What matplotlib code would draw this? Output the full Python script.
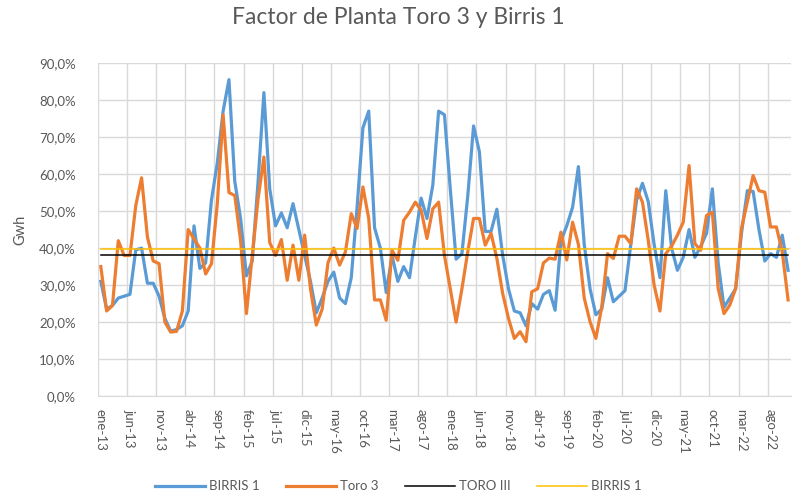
import numpy as np
import matplotlib.pyplot as plt
from matplotlib.ticker import FuncFormatter

plt.rcParams['font.family'] = ['Lato', 'DejaVu Sans']

# Monthly values, ene-13 .. nov-22 (plant factor in %)
tick_labels = ["ene-13", "jun-13", "nov-13", "abr-14", "sep-14", "feb-15",
               "jul-15", "dic-15", "may-16", "oct-16", "mar-17", "ago-17",
               "ene-18", "jun-18", "nov-18", "abr-19", "sep-19", "feb-20",
               "jul-20", "dic-20", "may-21", "oct-21", "mar-22", "ago-22"]

birris_1 = [31, 23.5, 24.5, 26.5, 27, 27.5, 39.5, 40, 30.5, 30.5,
            27, 21, 17.5, 18, 19, 23, 46, 34.5, 36, 53,
            63, 77, 85.5, 58, 48, 32.5, 36.5, 58, 82, 56,
            46, 49.5, 45.5, 52, 45, 38, 31, 22.5, 26.5, 31,
            33.5, 26.5, 25, 32, 51, 72.5, 77, 45.5, 40, 28,
            38, 31, 35, 32, 43, 53.5, 48, 57, 77, 76,
            56, 37, 38.5, 54, 73, 66, 44.5, 44.5, 50.5, 38,
            29, 23, 22.5, 19, 25, 23.5, 27.5, 28.5, 23.2, 42,
            46, 51, 62, 41, 29, 22, 23.5, 32, 25.5, 27,
            28.5, 41, 53, 57.5, 52.5, 41, 32, 55.5, 40, 34,
            37.5, 45, 37.5, 40.5, 44, 56, 36, 24, 26.5, 29,
            44, 55.5, 55.3, 45, 36.5, 38.5, 37.5, 43.5, 34]

toro_3 = [35, 23, 24.5, 42, 38, 38, 51.5, 59, 43, 36.5,
          35.8, 20, 17.3, 17.5, 23, 45, 42.5, 40, 33, 35.8,
          52, 76, 55, 54.2, 42, 22.3, 38, 53.3, 64.6, 41.5,
          38, 42.3, 31.3, 40.8, 31.3, 43.5, 29, 19.2, 23.5, 36,
          40, 35.4, 39, 49.3, 45.3, 56.5, 48, 26, 26, 20.5,
          39.4, 36.7, 47.5, 49.7, 52.4, 50.2, 42.6, 50.6, 52.4, 38,
          29, 20, 29, 39, 48, 48, 40.8, 44, 37.2, 27.7,
          21, 15.6, 17.4, 14.7, 28.2, 29, 36, 37.3, 37, 44.3,
          36.8, 47, 41, 26.5, 20.1, 15.6, 24, 38.5, 37.2, 43.2,
          43.2, 41.2, 56, 52.4, 42, 30, 23, 38.5, 40.5, 43.5,
          47, 62.3, 41.2, 39.4, 48.8, 49.7, 29.1, 22.3, 24.6, 29.1,
          45.3, 52.4, 59.6, 55.5, 55.1, 45.7, 45.7, 39, 26]

toro_iii_avg = 38.2
birris_1_avg = 39.8

x = np.arange(len(birris_1))

fig = plt.figure(figsize=(7.96, 5.04), dpi=100)
ax = fig.add_axes([0.123, 0.214, 0.8707, 0.661])

ax.plot(x, birris_1, color="#5B9BD5", lw=2.3, label="BIRRIS 1", solid_joinstyle="round")
ax.plot(x, toro_3, color="#ED7D31", lw=2.3, label="Toro 3", solid_joinstyle="round")
ax.plot(x, [toro_iii_avg] * len(x), color="black", lw=1.1, label="TORO III")
ax.plot(x, [birris_1_avg] * len(x), color="#FFC000", lw=1.1, label="BIRRIS 1")

ax.set_xlim(-0.5, len(x) - 0.5)
ax.set_ylim(0, 90)

# y axis: percentages with comma decimal
ax.set_yticks(np.arange(0, 91, 10))
ax.yaxis.set_major_formatter(FuncFormatter(lambda v, p: f"{v:.1f}%".replace(".", ",")))

# x axis: labels every 5 months, gridlines between categories
ax.set_xticks(np.arange(0, len(x), 5))
ax.set_xticklabels(tick_labels, rotation=-90, va="top", ha="center")
ax.set_xticks(np.arange(-0.5, len(x) - 1, 5), minor=True)

ax.grid(axis="y", which="major", color="#D9D9D9", lw=1)
ax.grid(axis="x", which="minor", color="#D9D9D9", lw=1)
ax.set_axisbelow(True)
ax.tick_params(axis="both", which="both", length=0, labelsize=9.5, colors="#595959")
ax.tick_params(axis="y", pad=16)
ax.tick_params(axis="x", pad=9)

for side in ["top", "right", "left"]:
    ax.spines[side].set_visible(False)
ax.spines["bottom"].set_color("#D9D9D9")

ax.set_ylabel("Gwh", fontsize=10.5, color="#595959", labelpad=8)

fig.text(0.5, 1 - 18 / 504, "Factor de Planta Toro 3 y Birris 1",
         ha="center", va="center", fontsize=16.5, color="#595959")

fig.legend(loc="lower center", bbox_to_anchor=(0.5, 0.0), ncol=4, frameon=False,
           fontsize=9.5, handlelength=3.8, handletextpad=0.3, columnspacing=2.0,
           labelcolor="#595959")

fig.savefig("out.png", dpi=100)
